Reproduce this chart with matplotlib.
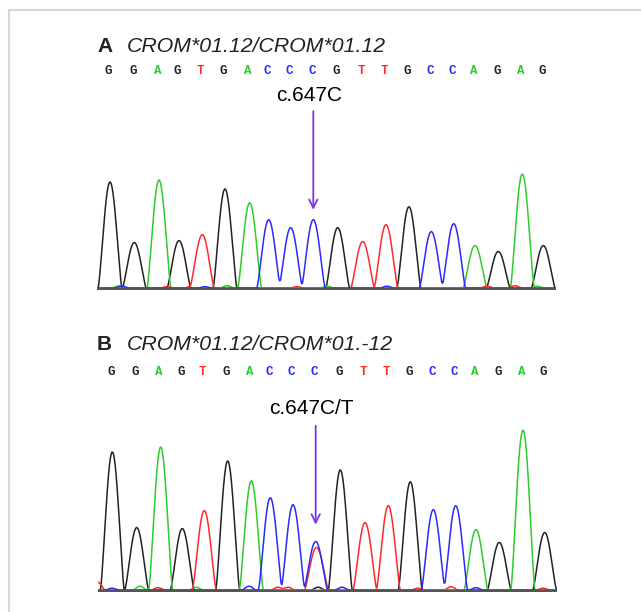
import numpy as np
import matplotlib.pyplot as plt
from matplotlib.patches import Rectangle

W, H = 641, 612

bases = list("GGAGTGACCCGTTGCCAGAG")
colors = {"G": "#222222", "A": "#2ecc2e", "T": "#ff2a2a", "C": "#2a2aff"}

# panel A: scan position and signal height of each called peak
pos_a = [13, 37.3, 62, 82, 105.3, 128, 152.7, 171.7, 193.7, 216.3,
         240.7, 265.7, 289, 312, 334.3, 356.7, 378, 401.3, 425.3, 446.3]
height_a = [107, 46, 109, 48, 54, 100, 86, 69, 61, 69,
            61, 47, 64, 82, 57, 65, 43, 37, 115, 43]
# small background bumps (base, position, height)
noise_a = [("A", 22, 2.5), ("C", 25, 2), ("T", 70, 1.5), ("C", 108, 1.5),
           ("T", 95, 2.5), ("A", 130, 2.5), ("T", 200, 1.5), ("A", 230, 2),
           ("C", 290, 2), ("G", 305, 1.5), ("T", 390, 2), ("T", 418, 2.5),
           ("A", 440, 2)]

# panel B: heterozygous C/T at the 10th base
pos_b = [14.3, 38.7, 62.7, 84.3, 106.3, 129.7, 153.3, 172.3, 195, 217.7,
         242.3, 267, 290.3, 312.3, 335.3, 357.7, 378, 401.3, 425, 446.7]
height_b = [139, 63, 144, 62, 80, 130, 110, 93, 86, 49,
            121, 68, 85, 109, 81, 85, 61, 48, 161, 58]
extra_b = [("T", 218.5, 43)]
noise_b = [("T", 0, 8), ("C", 14, 2), ("A", 42, 4), ("T", 60, 2.5),
           ("A", 98, 3), ("C", 151, 4), ("T", 180, 3), ("T", 190, 3),
           ("G", 220, 3), ("C", 244, 3), ("T", 320, 2), ("T", 353, 3.5),
           ("C", 378, 2.5), ("A", 417, 3.5), ("T", 445, 2)]

title_a = "CROM*01.12/CROM*01.12"
title_b = "CROM*01.12/CROM*01.-12"
label_a = "c.647C"
label_b = "c.647C/T"


def fx(x):
    return x / W


def fy(y):
    return 1 - y / H


def peak(x, p, h, w=12.0):
    d = np.clip(np.abs(x - p) / w, 0, 1)
    return h * np.cos(np.pi * d / 2) ** 1.4


def traces(ax, pos, hts, extra, length):
    x = np.linspace(0, length, 3000)
    for b, c in colors.items():
        y = np.zeros_like(x)
        for p, h, bb in zip(pos, hts, bases):
            if bb == b:
                y += peak(x, p, h)
        for bb, p, h in extra:
            if bb == b:
                w = 12.0 if h > 10 else 7.0
                y += peak(x, p, h, w)
        ax.plot(x, y + 0.8, color=c, lw=1.1)
    ax.axhline(0, color="#555555", lw=1.6)


fig = plt.figure(figsize=(W / 100, H / 100), dpi=100)
fig.patches.append(Rectangle((fx(9), fy(700)), fx(700), fy(10) - fy(700),
                             transform=fig.transFigure, fill=False,
                             edgecolor="#d6d6d6", lw=1.5))

panels = [
    (97, 290, 130, pos_a, height_a, noise_a, title_a, label_a, 46, 70, 95, 108, 213, "A"),
    (98, 592, 170, pos_b, height_b, extra_b + noise_b, title_b, label_b, 345, 372, 408, 423, 528, "B"),
]

for (left, base_y, top, pos, hts, extra, title, label,
     ty, ly, cy, a0, a1, tag) in panels:
    length = 459
    ax = fig.add_axes([fx(left), fy(base_y), fx(length), top / H])
    ax.set_xlim(0, length)
    ax.set_ylim(-1, top)
    ax.axis("off")
    traces(ax, pos, hts, extra, length)

    for p, b in zip(pos, bases):
        ax.text(p - 1.5, base_y - ly, b, color=colors[b], ha="center", va="center",
                fontsize=9, fontweight="bold", family="Liberation Mono",
                clip_on=False)

    xm = pos[9]
    ax.text(xm - 4, base_y - cy, label, ha="center", va="center", fontsize=15,
            family="Liberation Sans", clip_on=False)
    ax.annotate("", xy=(xm, base_y - a1), xytext=(xm, base_y - a0),
                arrowprops=dict(arrowstyle="->,head_length=0.6,head_width=0.3",
                                color="#7a35e8", lw=1.3),
                annotation_clip=False)

    fig.text(fx(97), fy(ty), tag, fontsize=15, fontweight="bold",
             family="Liberation Sans", va="center", ha="left", color="#222222")
    fig.text(fx(127), fy(ty), title, fontsize=15.3, style="italic",
             family="Liberation Sans", va="center", ha="left", color="#222222")

fig.savefig("out.png", dpi=100)
